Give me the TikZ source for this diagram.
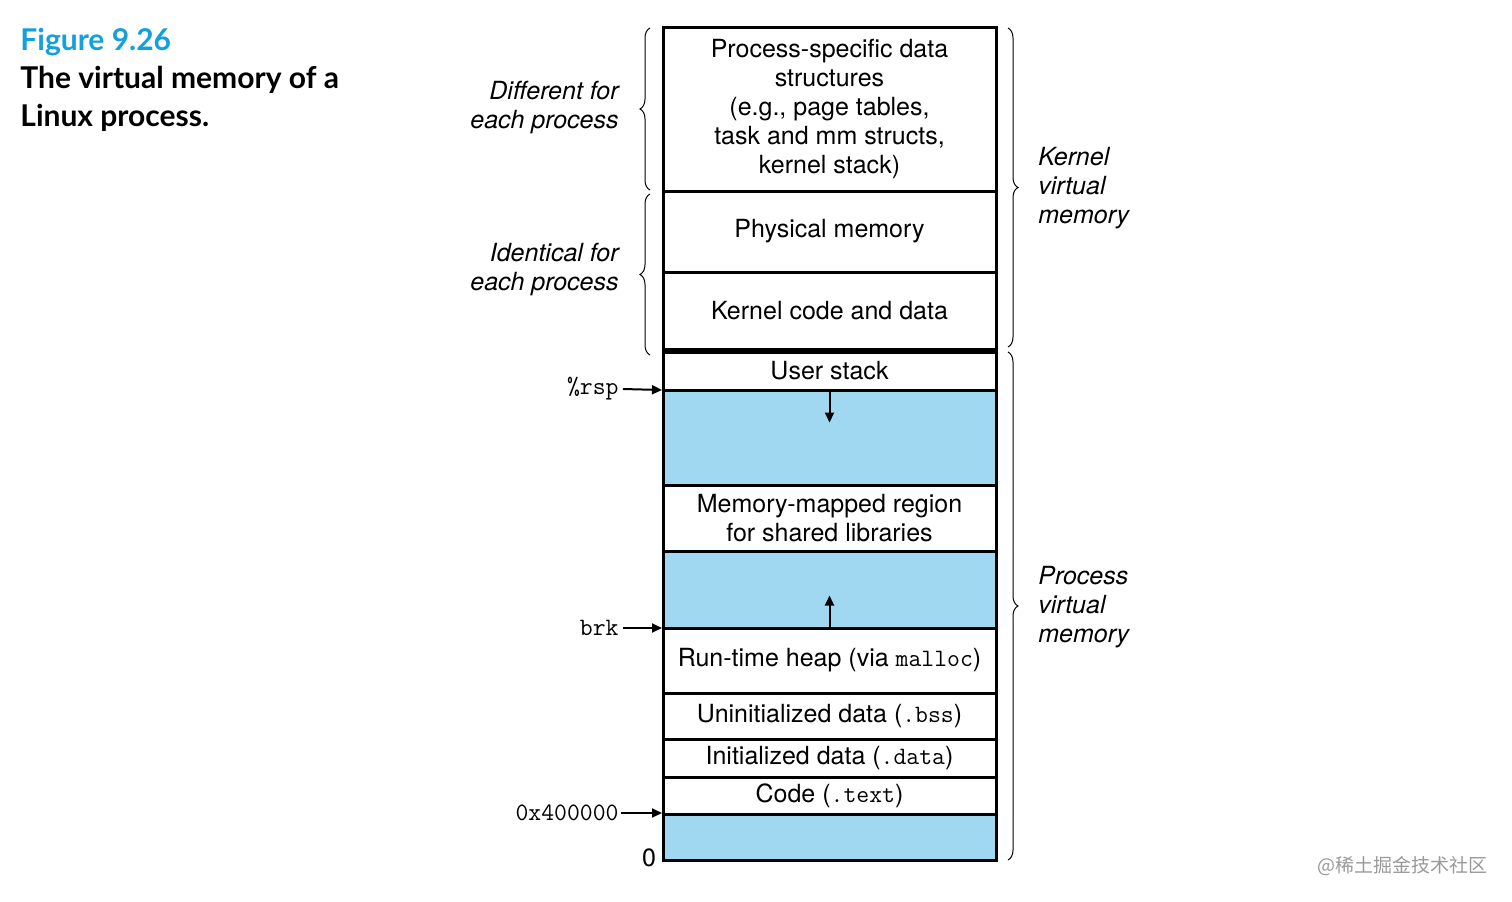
\documentclass[tikz,border=0pt]{standalone}
\usepackage{fontspec}
\setmainfont{TeX Gyre Heros}
\newfontfamily\titlefont{Lato}
\newfontfamily\cjk{Noto Sans CJK SC}
\usetikzlibrary{decorations.pathreplacing,arrows.meta}
\definecolor{memblue}{RGB}{160,216,242}
\definecolor{figblue}{RGB}{20,160,220}
\begin{document}
\begin{tikzpicture}[x=0.5pt,y=-0.5pt,
  cell/.style={draw,line width=1.5pt,minimum width=166.5pt,inner sep=0pt,align=center,font=\fontsize{12.5}{14.5}\selectfont},
  blue/.style={cell,fill=memblue},
  lab/.style={font=\fontsize{12.5}{14.5}\selectfont\itshape,align=left,inner sep=0pt},
  addr/.style={font=\fontsize{12.5}{14}\selectfont\ttfamily,inner sep=0pt,anchor=east},
  br/.style={decorate,decoration={brace,amplitude=5pt},line width=0.5pt},
  arr/.style={-{Triangle[length=5pt,width=4.5pt]},line width=1pt}]
\useasboundingbox (0,0) rectangle (1512,901);
\def\cx{829.5}
\node[cell,minimum height=82pt] (ps) at (\cx,109) {Process-specific data\\structures\\(e.g., page tables,\\task and mm structs,\\kernel stack)};
\node[cell,minimum height=40.5pt] (pm) at (\cx,231.5) {Physical memory};
\node[cell,minimum height=38.5pt] (kc) at (\cx,310.5) {Kernel code and data};
\node[cell,minimum height=19pt] (us) at (\cx,371) {User stack};
\node[blue,minimum height=47.5pt] (b1) at (\cx,437.5) {};
\node[cell,minimum height=33pt] (mm) at (\cx,518) {Memory-mapped region\\for shared libraries};
\node[blue,minimum height=38.5pt] (b2) at (\cx,589.5) {};
\node[cell,minimum height=32.5pt] (hp) at (\cx,660.5) {Run-time heap (via \texttt{malloc})};
\node[cell,minimum height=23pt] (bs) at (\cx,716) {Uninitialized data (\texttt{.bss})};
\node[cell,minimum height=19pt] (dt) at (\cx,758) {Initialized data (\texttt{.data})};
\node[cell,minimum height=18.5pt] (tx) at (\cx,795.5) {Code (\texttt{.text})};
\node[blue,minimum height=23pt] (b3) at (\cx,837) {};
\draw[line width=2.5pt] (kc.south west) -- (kc.south east);
\draw[arr] (b1.north) -- ++(0,34);
\draw[arr] (b2.south) -- ++(0,-34);
% left labels
\coordinate (l1a) at (650,190); \coordinate (l1b) at (650,28);
\coordinate (l2a) at (650,355); \coordinate (l2b) at (650,194);
\draw[br] (l1a) -- (l1b);
\draw[br] (l2a) -- (l2b);
\node[lab,align=right,anchor=east] (d1) at (619,108) {Different for\\each process};
\node[lab,align=right,anchor=east] (d2) at (619,270) {Identical for\\each process};
\coordinate (r1a) at (1008,28); \coordinate (r1b) at (1008,347);
\coordinate (r2a) at (1008,352); \coordinate (r2b) at (1008,860);
\draw[br] (r1a) -- (r1b);
\draw[br] (r2a) -- (r2b);
\node[lab,anchor=west] (k) at (1038,188) {Kernel\\virtual\\memory};
\node[lab,anchor=west] (p) at (1038,607) {Process\\virtual\\memory};
% addresses
\node[addr] (rsp) at (619,389) {\%rsp};
\node[addr] (brk) at (619,628) {brk};
\node[addr] (hx) at (619,813) {0x400000};
\node[font=\fontsize{12.5}{14}\selectfont,inner sep=0pt] (z) at (649,858) {0};
\coordinate (t1) at (662,390); \coordinate (t2) at (662,628); \coordinate (t3) at (662,813);
\draw[arr] (rsp.east) ++(4,0) -- (t1);
\draw[arr] (brk.east) ++(4,0) -- (t2);
\draw[arr] (hx.east) ++(2,0) -- (t3);
% title
\node[anchor=north west,inner sep=0pt,align=left,font=\titlefont\bfseries\fontsize{15}{19}\selectfont] (tt) at (20,28) {\textcolor{figblue}{Figure 9.26}\\The virtual memory of a\\Linux process.};
\node[anchor=east,inner sep=0pt,text=gray!80,font=\cjk\fontsize{9.5}{11}\selectfont] (wm) at (1488,866) {@稀土掘金技术社区};
\end{tikzpicture}
\end{document}
